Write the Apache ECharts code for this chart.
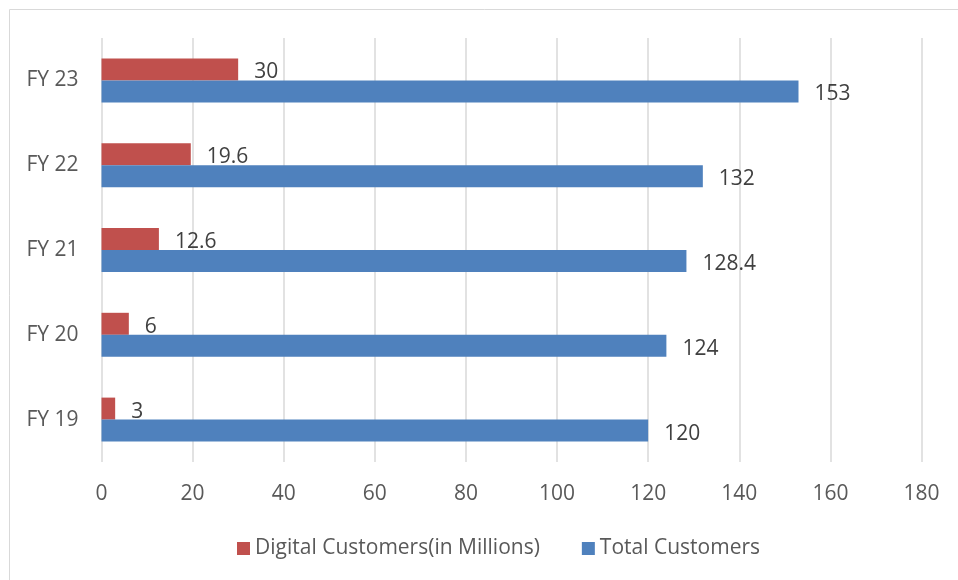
<!DOCTYPE html>
<html>
<head>
<meta charset="utf-8">
<script src="https://cdn.jsdelivr.net/npm/echarts@6/dist/echarts.min.js"></script>
<style>html,body{margin:0;padding:0;background:#fff}#c{width:958px;height:580px}</style>
</head>
<body>
<div id="c"></div>
<script>
var categories = ['FY 19', 'FY 20', 'FY 21', 'FY 22', 'FY 23'];
var digitalCustomers = [3, 6, 12.6, 19.6, 30];
var totalCustomers = [120, 124, 128.4, 132, 153];
var seriesNames = ['Digital Customers(in Millions)', 'Total Customers'];
var xTicks = {min: 0, max: 180, interval: 20};

var font = '"Open Sans", "Liberation Sans", sans-serif';
var chart = echarts.init(document.getElementById('c'));
var labelStyle = {show: true, position: 'right', distance: 16, color: '#404040', fontSize: 21, fontFamily: font, offset: [0, 3]};
chart.setOption({
  animation: false,
  graphic: [{type: 'rect', shape: {x: 9.5, y: 9.5, width: 1000, height: 1000}, style: {fill: 'none', stroke: '#D9D9D9', lineWidth: 1}, silent: true}],
  grid: {left: 101.5, right: 36.5, top: 38, bottom: 118, containLabel: false},
  legend: {
    bottom: 16, left: 232, itemWidth: 13, itemHeight: 13, itemGap: 42,
    icon: 'rect',
    textStyle: {color: '#595959', fontSize: 21, fontFamily: font},
    data: seriesNames
  },
  xAxis: {
    type: 'value', min: xTicks.min, max: xTicks.max, interval: xTicks.interval,
    axisLine: {show: false}, axisTick: {show: false},
    axisLabel: {color: '#595959', fontSize: 21, fontFamily: font, margin: 22},
    splitLine: {show: true, lineStyle: {color: '#D9D9D9', width: 1.5}}
  },
  yAxis: {
    type: 'category', data: categories,
    axisLine: {show: false}, axisTick: {show: false},
    axisLabel: {color: '#595959', fontSize: 21, fontFamily: font, margin: 23}
  },
  series: [
    {name: seriesNames[0], type: 'bar', data: digitalCustomers, barWidth: 22, barGap: '0%',
     itemStyle: {color: '#C0504D'}, label: labelStyle},
    {name: seriesNames[1], type: 'bar', data: totalCustomers, barWidth: 22, barGap: '0%',
     itemStyle: {color: '#4F81BD'}, label: labelStyle}
  ]
});
</script>
</body>
</html>
